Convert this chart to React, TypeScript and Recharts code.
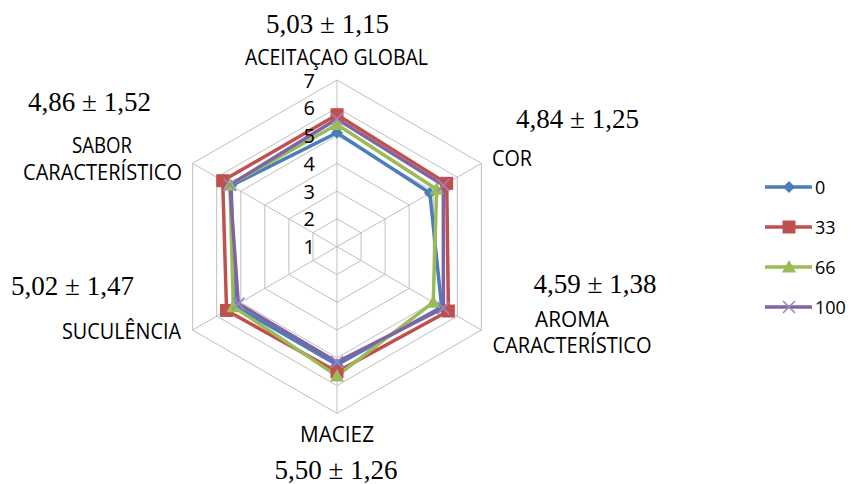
import React from "react";
import {
  Legend,
  PolarAngleAxis,
  PolarGrid,
  PolarRadiusAxis,
  Radar,
  RadarChart,
} from "recharts";

if (typeof document !== "undefined") document.body.style.margin = "0";

const categories = [
  "ACEITAÇAO GLOBAL",
  "COR",
  "AROMA CARACTERÍSTICO",
  "MACIEZ",
  "SUCULÊNCIA",
  "SABOR CARACTERÍSTICO",
];
const meanLabels = [
  "5,03 ± 1,15",
  "4,84 ± 1,25",
  "4,59 ± 1,38",
  "5,50 ± 1,26",
  "5,02 ± 1,47",
  "4,86 ± 1,52",
];
const seriesNames = ["0", "33", "66", "100"];
const s0 = [5.1, 4.86, 5.35, 5.25, 5.25, 5.4];
const s33 = [5.75, 5.56, 5.63, 5.5, 5.59, 5.75];
const s66 = [5.4, 5.14, 5.0, 5.65, 5.31, 5.45];
const s100 = [5.6, 5.42, 5.42, 5.15, 5.1, 5.45];
const radiusTicks = [1, 2, 3, 4, 5, 6, 7];

const data = categories.map((attr, i) => ({
  attr,
  "0": s0[i],
  "33": s33[i],
  "66": s66[i],
  "100": s100[i],
}));

const colors = ["#4a7ebb", "#c0504d", "#9bbb59", "#8064a2"];
const kinds = ["diamond", "square", "triangle", "cross"];

const sans = "'Open Sans', 'Noto Sans', sans-serif";
const serif = "'Liberation Serif', 'DejaVu Serif', serif";

// label placement, chart coordinates
type Line = { text: string; x: number; y: number; anchor: "start" | "middle" | "end"; w: number };
const labelLayout: { lines: Line[]; mx: number; my: number }[] = [
  { lines: [{ text: "ACEITAÇAO GLOBAL", x: 328.5, y: 57, anchor: "middle", w: 183 }], mx: 319.5, my: 25 },
  { lines: [{ text: "COR", x: 484, y: 158, anchor: "start", w: 40 }], mx: 569.5, my: 120 },
  {
    lines: [
      { text: "AROMA", x: 564, y: 318.5, anchor: "middle", w: 74 },
      { text: "CARACTERÍSTICO", x: 564, y: 344.5, anchor: "middle", w: 159 },
    ],
    mx: 587,
    my: 284.5,
  },
  { lines: [{ text: "MACIEZ", x: 329, y: 433.5, anchor: "middle", w: 74 }], mx: 328, my: 471 },
  { lines: [{ text: "SUCULÊNCIA", x: 173, y: 331, anchor: "end", w: 119 }], mx: 64.5, my: 287 },
  {
    lines: [
      { text: "SABOR", x: 94, y: 145, anchor: "middle", w: 60 },
      { text: "CARACTERÍSTICO", x: 94.5, y: 172, anchor: "middle", w: 159 },
    ],
    mx: 81.5,
    my: 103,
  },
];

function Marker({ kind, x, y, color }: { kind: string; x: number; y: number; color: string }) {
  if (kind === "diamond") {
    const s = 6;
    return <polygon points={`${x},${y - s} ${x + s},${y} ${x},${y + s} ${x - s},${y}`} fill={color} />;
  }
  if (kind === "square") {
    const s = 6.5;
    return <rect x={x - s} y={y - s} width={s * 2} height={s * 2} fill={color} />;
  }
  if (kind === "triangle") {
    const s = 7;
    return <polygon points={`${x},${y - s} ${x + s},${y + s * 0.8} ${x - s},${y + s * 0.8}`} fill={color} />;
  }
  const s = 6;
  return (
    <g stroke="#9a86c0" strokeWidth={1.6}>
      <line x1={x - s} y1={y - s} x2={x + s} y2={y + s} />
      <line x1={x - s} y1={y + s} x2={x + s} y2={y - s} />
    </g>
  );
}

function AngleTick(props: any) {
  const i = props.payload?.index ?? categories.indexOf(props.payload?.value);
  const l = labelLayout[i];
  if (!l) return null;
  return (
    <g>
      {l.lines.map((ln) => (
        <text
          key={ln.text}
          x={ln.x}
          y={ln.y}
          textAnchor={ln.anchor}
          textLength={ln.w}
          lengthAdjust="spacingAndGlyphs"
          fontFamily={sans}
          fontSize={21}
          fill="#000"
        >
          {ln.text}
        </text>
      ))}
      <text x={l.mx} y={l.my} textAnchor="middle" fontFamily={serif} fontSize={27} fill="#000">
        {meanLabels[i]}
      </text>
    </g>
  );
}

function RadiusTick(props: any) {
  const { x, y, payload } = props;
  return (
    <text x={x - 22} y={y} textAnchor="end" dominantBaseline="central" fontFamily={sans} fontSize={20} fill="#000">
      {payload.value}
    </text>
  );
}

function LegendBox() {
  return (
    <div>
      {seriesNames.map((name, i) => (
        <div key={name} style={{ display: "flex", alignItems: "center", height: 40 }}>
          <svg width={50} height={40}>
            <line x1={0} y1={20} x2={47} y2={20} stroke={colors[i]} strokeWidth={3.5} />
            <Marker kind={kinds[i]} x={24} y={20} color={colors[i]} />
          </svg>
          <span style={{ fontFamily: sans, fontSize: 18, color: "#000", marginLeft: 0 }}>{name}</span>
        </div>
      ))}
    </div>
  );
}

export default function App() {
  return (
    <div style={{ padding: "8px 0 0 8px", width: 843, height: 476 }}>
      <RadarChart
        width={843}
        height={476}
        data={data}
        cx={329}
        cy={238.7}
        outerRadius={166.7}
        margin={{ top: 0, right: 0, bottom: 0, left: 0 }}
      >
        <PolarGrid gridType="polygon" stroke="#bfbfbf" strokeWidth={1} />
        <PolarAngleAxis dataKey="attr" tick={AngleTick} tickLine={false} axisLine={false} />
        <PolarRadiusAxis
          angle={90}
          domain={[1, 7]}
          ticks={radiusTicks as any}
          tickCount={7}
          tick={RadiusTick}
          axisLine={false}
          tickLine={false}
        />
        {seriesNames.map((name, i) => (
          <Radar
            key={name}
            name={name}
            dataKey={name}
            stroke={colors[i]}
            strokeWidth={3.5}
            fill="none"
            fillOpacity={0}
            isAnimationActive={false}
            dot={(p: any) => <Marker key={`${name}-${p.index}`} kind={kinds[i]} x={p.cx} y={p.cy} color={colors[i]} />}
          />
        ))}
        <Legend
          layout="vertical"
          content={() => <LegendBox />}
          wrapperStyle={{ left: 757, top: 159, width: 86, right: "auto", bottom: "auto" }}
        />
      </RadarChart>
    </div>
  );
}
